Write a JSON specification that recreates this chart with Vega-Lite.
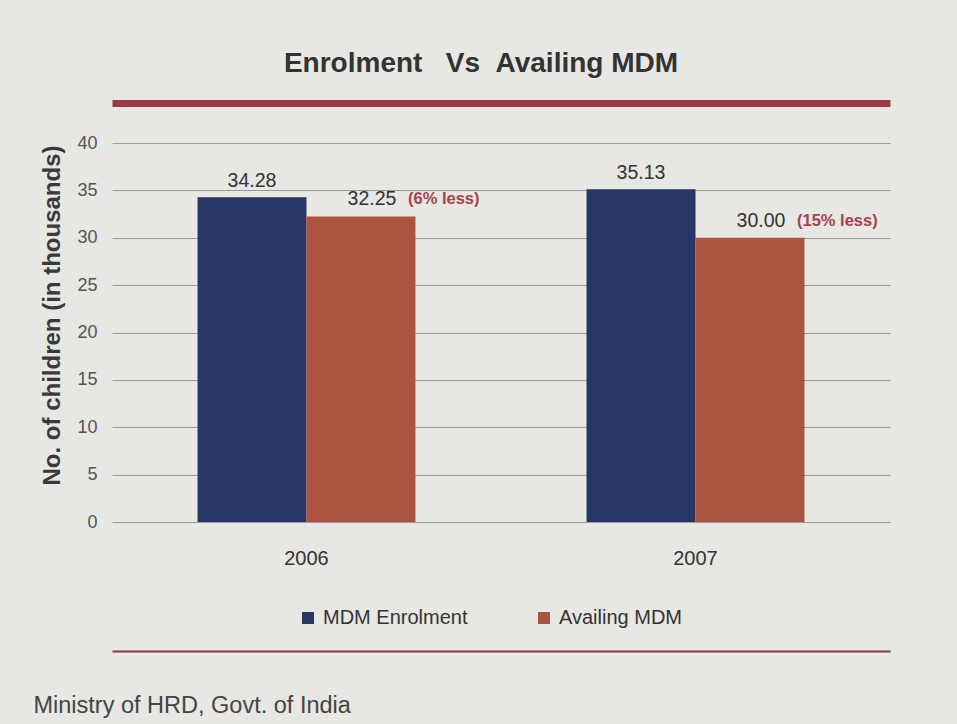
{
  "$schema": "https://vega.github.io/schema/vega-lite/v6.json",
  "width": 778,
  "height": 379,
  "autosize": {"type": "none"},
  "padding": {"left": 112, "top": 143, "right": 67, "bottom": 202},
  "background": "#e7e7e3",
  "config": {"view": {"stroke": null}, "font": "Liberation Sans"},
  "title": {
    "text": "Enrolment\u00a0\u00a0\u00a0Vs\u00a0\u00a0Availing MDM",
    "font": "Liberation Sans",
    "fontSize": 28,
    "fontWeight": "bold",
    "color": "#333333",
    "anchor": "middle",
    "frame": "group",
    "dx": -20,
    "offset": 25
  },
  "data": {
    "values": [
      {"year": "2006", "series": "MDM Enrolment", "value": 34.28, "label": "34.28", "note": null},
      {"year": "2006", "series": "Availing MDM", "value": 32.25, "label": "32.25", "note": "(6% less)"},
      {"year": "2007", "series": "MDM Enrolment", "value": 35.13, "label": "35.13", "note": null},
      {"year": "2007", "series": "Availing MDM", "value": 30.0, "label": "30.00", "note": "(15% less)"}
    ]
  },
  "encoding": {
    "xOffset": {
      "field": "series",
      "type": "nominal",
      "sort": ["MDM Enrolment", "Availing MDM"],
      "scale": {"paddingInner": 0, "paddingOuter": 0.785}
    },
    "y": {
      "field": "value",
      "type": "quantitative",
      "scale": {"domain": [0, 40]},
      "axis": {
        "values": [0, 5, 10, 15, 20, 25, 30, 35, 40],
        "labelFont": "Liberation Sans",
        "labelFontSize": 18,
        "labelColor": "#555555",
        "labelPadding": 15,
        "ticks": false,
        "domain": false,
        "grid": true,
        "gridColor": "#9a9a9a",
        "gridWidth": 1,
        "title": "No. of children (in thousands)",
        "titleFont": "Liberation Sans",
        "titleFontSize": 24,
        "titleFontWeight": "bold",
        "titleColor": "#3a3a3a",
        "titlePadding": 12,
        "titleY": 172
      }
    }
  },
  "layer": [
    {
      "mark": {"type": "bar"},
      "encoding": {
        "x": {
          "field": "year",
          "type": "nominal",
          "scale": {"paddingInner": 0, "paddingOuter": 0},
          "axis": {
            "orient": "bottom",
            "labelAngle": 0,
            "labelFontSize": 20,
            "labelColor": "#333333",
            "labelPadding": 26,
            "domain": false,
            "ticks": false,
            "title": null
          }
        },
        "color": {
          "field": "series",
          "type": "nominal",
          "sort": ["MDM Enrolment", "Availing MDM"],
          "scale": {"domain": ["MDM Enrolment", "Availing MDM"], "range": ["#283666", "#ad5440"]},
          "legend": {
            "orient": "none",
            "legendX": 186,
            "legendY": 465,
            "direction": "horizontal",
            "title": null,
            "labelFontSize": 20,
            "labelColor": "#333333",
            "labelOffset": 5,
            "symbolType": "square",
            "symbolSize": 144,
            "symbolStrokeWidth": 0,
            "columnPadding": 66
          }
        }
      }
    },
    {
      "transform": [{"filter": "datum.series === 'MDM Enrolment'"}],
      "mark": {"type": "text", "baseline": "alphabetic", "dy": -10, "fontSize": 19.5, "color": "#333333"},
      "encoding": {
        "x": {
          "field": "year",
          "type": "nominal",
          "axis": {
            "orient": "top",
            "offset": 40,
            "labels": false,
            "ticks": false,
            "title": null,
            "domain": true,
            "domainColor": "#9a3c48",
            "domainWidth": 7
          }
        },
        "text": {"field": "label"}
      }
    },
    {
      "transform": [{"filter": "datum.series === 'Availing MDM'"}],
      "mark": {"type": "text", "baseline": "alphabetic", "dy": -11, "dx": 11, "fontSize": 19.5, "color": "#333333"},
      "encoding": {
        "x": {
          "field": "year",
          "type": "nominal",
          "axis": {
            "orient": "bottom",
            "offset": 129,
            "labels": false,
            "ticks": false,
            "domain": true,
            "domainColor": "#8a3a44",
            "domainWidth": 2,
            "title": "Ministry of HRD, Govt. of India",
            "titleFont": "Liberation Sans",
            "titleFontSize": 23.5,
            "titleFontWeight": "normal",
            "titleColor": "#444444",
            "titleAlign": "left",
            "titleAnchor": "start",
            "titleBaseline": "alphabetic",
            "titleX": -79,
            "titleY": 61
          }
        },
        "text": {"field": "label"}
      }
    },
    {
      "transform": [{"filter": "datum.note != null"}],
      "mark": {"type": "text", "baseline": "alphabetic", "dy": -12, "dx": 47, "align": "left", "fontSize": 16.5, "fontWeight": "bold", "color": "#a8404a"},
      "encoding": {
        "x": {"field": "year", "type": "nominal", "axis": null},
        "text": {"field": "note"}
      }
    }
  ],
  "resolve": {"axis": {"x": "independent"}}
}
